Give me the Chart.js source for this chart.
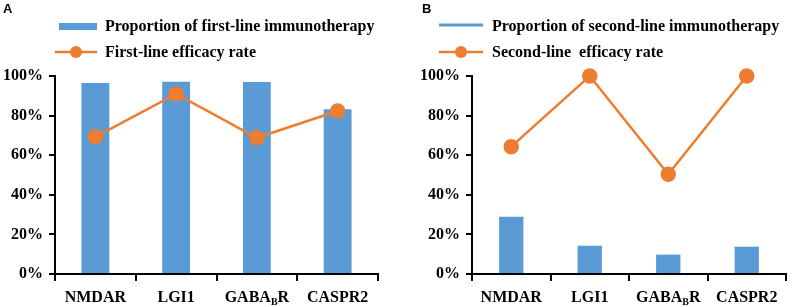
<!DOCTYPE html>
<html lang="en">
<head>
  <meta charset="UTF-8">
  <title>Immunotherapy efficacy</title>
  <script src="https://cdn.jsdelivr.net/npm/chart.js"></script>
  <style>
    body { margin: 0; background: #fff; }
    .panel { position: absolute; top: 0; }
    #panelA { left: 0; }
    #panelB { left: 400px; }
  </style>
</head>
<body>
  <div class="panel" id="panelA"><canvas id="chartA" width="400" height="307"></canvas></div>
  <div class="panel" id="panelB"><canvas id="chartB" width="395" height="307"></canvas></div>

  <script>
    // categories ("_" marks a subscript letter)
    const categories = ['NMDAR', 'LGI1', 'GABA_BR', 'CASPR2'];
    const yTickValues = [0, 20, 40, 60, 80, 100];

    // panel A
    const firstLineProportion = [96.5, 97.1, 97.0, 83.2];
    const firstLineEfficacy = [69.3, 90.9, 68.8, 82.3];
    // panel B
    const secondLineProportion = [28.9, 14.3, 9.8, 13.8];
    const secondLineEfficacy = [64.3, 100, 50.4, 100];

    const legendA = ['Proportion of first-line immunotherapy', 'First-line efficacy rate'];
    const legendB = ['Proportion of second-line immunotherapy', 'Second-line  efficacy rate'];

    const BLUE = '#5b9bd5';
    const ORANGE = '#ed7d31';
    const SERIF = '"Liberation Serif", "Times New Roman", serif';

    // draws the legend, panel letter and x labels (with subscript)
    const decorPlugin = {
      id: 'decor',
      afterDraw(chart, args, o) {
        const ctx = chart.ctx;
        ctx.save();

        // panel letter
        ctx.fillStyle = '#000';
        ctx.font = 'bold 13px "Liberation Sans", Arial, sans-serif';
        ctx.textBaseline = 'alphabetic';
        ctx.textAlign = 'left';
        ctx.fillText(o.letter, o.letterX, 13);

        // legend
        ctx.font = 'bold 16px ' + SERIF;
        ctx.textBaseline = 'middle';
        if (o.barSwatch === 'box') {
          ctx.fillStyle = BLUE;
          ctx.fillRect(o.swL + 4, 23, o.swR - o.swL - 4, 7);
        } else {
          ctx.strokeStyle = BLUE;
          ctx.lineWidth = 3;
          ctx.beginPath(); ctx.moveTo(o.swL, 25); ctx.lineTo(o.swR, 25); ctx.stroke();
        }
        ctx.fillStyle = '#000';
        ctx.fillText(o.labels[0], o.textX, 27);

        ctx.strokeStyle = ORANGE;
        ctx.lineWidth = 2.5;
        ctx.beginPath(); ctx.moveTo(o.swL, 52); ctx.lineTo(o.swR, 52); ctx.stroke();
        ctx.fillStyle = ORANGE;
        ctx.beginPath(); ctx.arc((o.swL + o.swR) / 2, 52, 6, 0, Math.PI * 2); ctx.fill();
        ctx.fillStyle = '#000';
        ctx.fillText(o.labels[1], o.textX, 53);

        // x labels
        const xs = chart.scales.x;
        categories.forEach((lab, i) => {
          const parts = [];
          for (let k = 0; k < lab.length; k++) {
            if (lab[k] === '_') { parts.push({ t: lab[k + 1], sub: true }); k++; }
            else parts.push({ t: lab[k], sub: false });
          }
          const fontMain = 'bold 16px ' + SERIF;
          const fontSub = 'bold 10px ' + SERIF;
          let total = 0;
          parts.forEach(p => { ctx.font = p.sub ? fontSub : fontMain; p.w = ctx.measureText(p.t).width; total += p.w; });
          let x = xs.getPixelForValue(i) - total / 2;
          ctx.fillStyle = '#000';
          ctx.textAlign = 'left';
          ctx.textBaseline = 'alphabetic';
          parts.forEach(p => {
            ctx.font = p.sub ? fontSub : fontMain;
            ctx.fillText(p.t, x, p.sub ? 305 : 302);
            x += p.w;
          });
        });
        ctx.restore();
      }
    };

    function makeChart(id, bars, line, yWidth, padRight, barPct, decor) {
      return new Chart(document.getElementById(id), {
        type: 'bar',
        data: {
          labels: categories,
          datasets: [
            { type: 'line', data: line, borderColor: ORANGE, backgroundColor: ORANGE,
              borderWidth: 2.5, pointRadius: 6.5, pointHoverRadius: 6.5, tension: 0, order: 0, clip: false },
            { type: 'bar', data: bars, backgroundColor: BLUE, barPercentage: barPct,
              categoryPercentage: 1, order: 1 }
          ]
        },
        options: {
          responsive: false,
          animation: false,
          events: [],
          layout: { padding: { top: 76, right: padRight, left: 0, bottom: 0 } },
          plugins: { legend: { display: false }, tooltip: { enabled: false }, decor: decor },
          scales: {
            x: {
              afterFit(s) { s.height = 33; },
              grid: { drawOnChartArea: false, drawTicks: true, tickLength: 7, color: '#000', lineWidth: 2, offset: true },
              border: { color: '#000', width: 2 },
              ticks: { display: false }
            },
            y: {
              min: 0, max: 100,
              afterFit(s) { s.width = yWidth; },
              afterBuildTicks(s) { s.ticks = yTickValues.map(v => ({ value: v })); },
              grid: { drawOnChartArea: false, drawTicks: true, tickLength: 6, color: '#000', lineWidth: 2 },
              border: { color: '#000', width: 2 },
              ticks: {
                padding: 6, color: '#000',
                font: { family: SERIF, size: 16, weight: 'bold' },
                callback: v => v + '%'
              }
            }
          }
        },
        plugins: [decorPlugin]
      });
    }

    makeChart('chartA', firstLineProportion, firstLineEfficacy, 55, 22, 0.345,
      { letter: 'A', letterX: 3, labels: legendA, barSwatch: 'box', swL: 55, swR: 97, textX: 105 });
    makeChart('chartB', secondLineProportion, secondLineEfficacy, 72, 4, 0.31,
      { letter: 'B', letterX: 22, labels: legendB, barSwatch: 'line', swL: 39, swR: 83, textX: 92 });
  </script>
</body>
</html>
